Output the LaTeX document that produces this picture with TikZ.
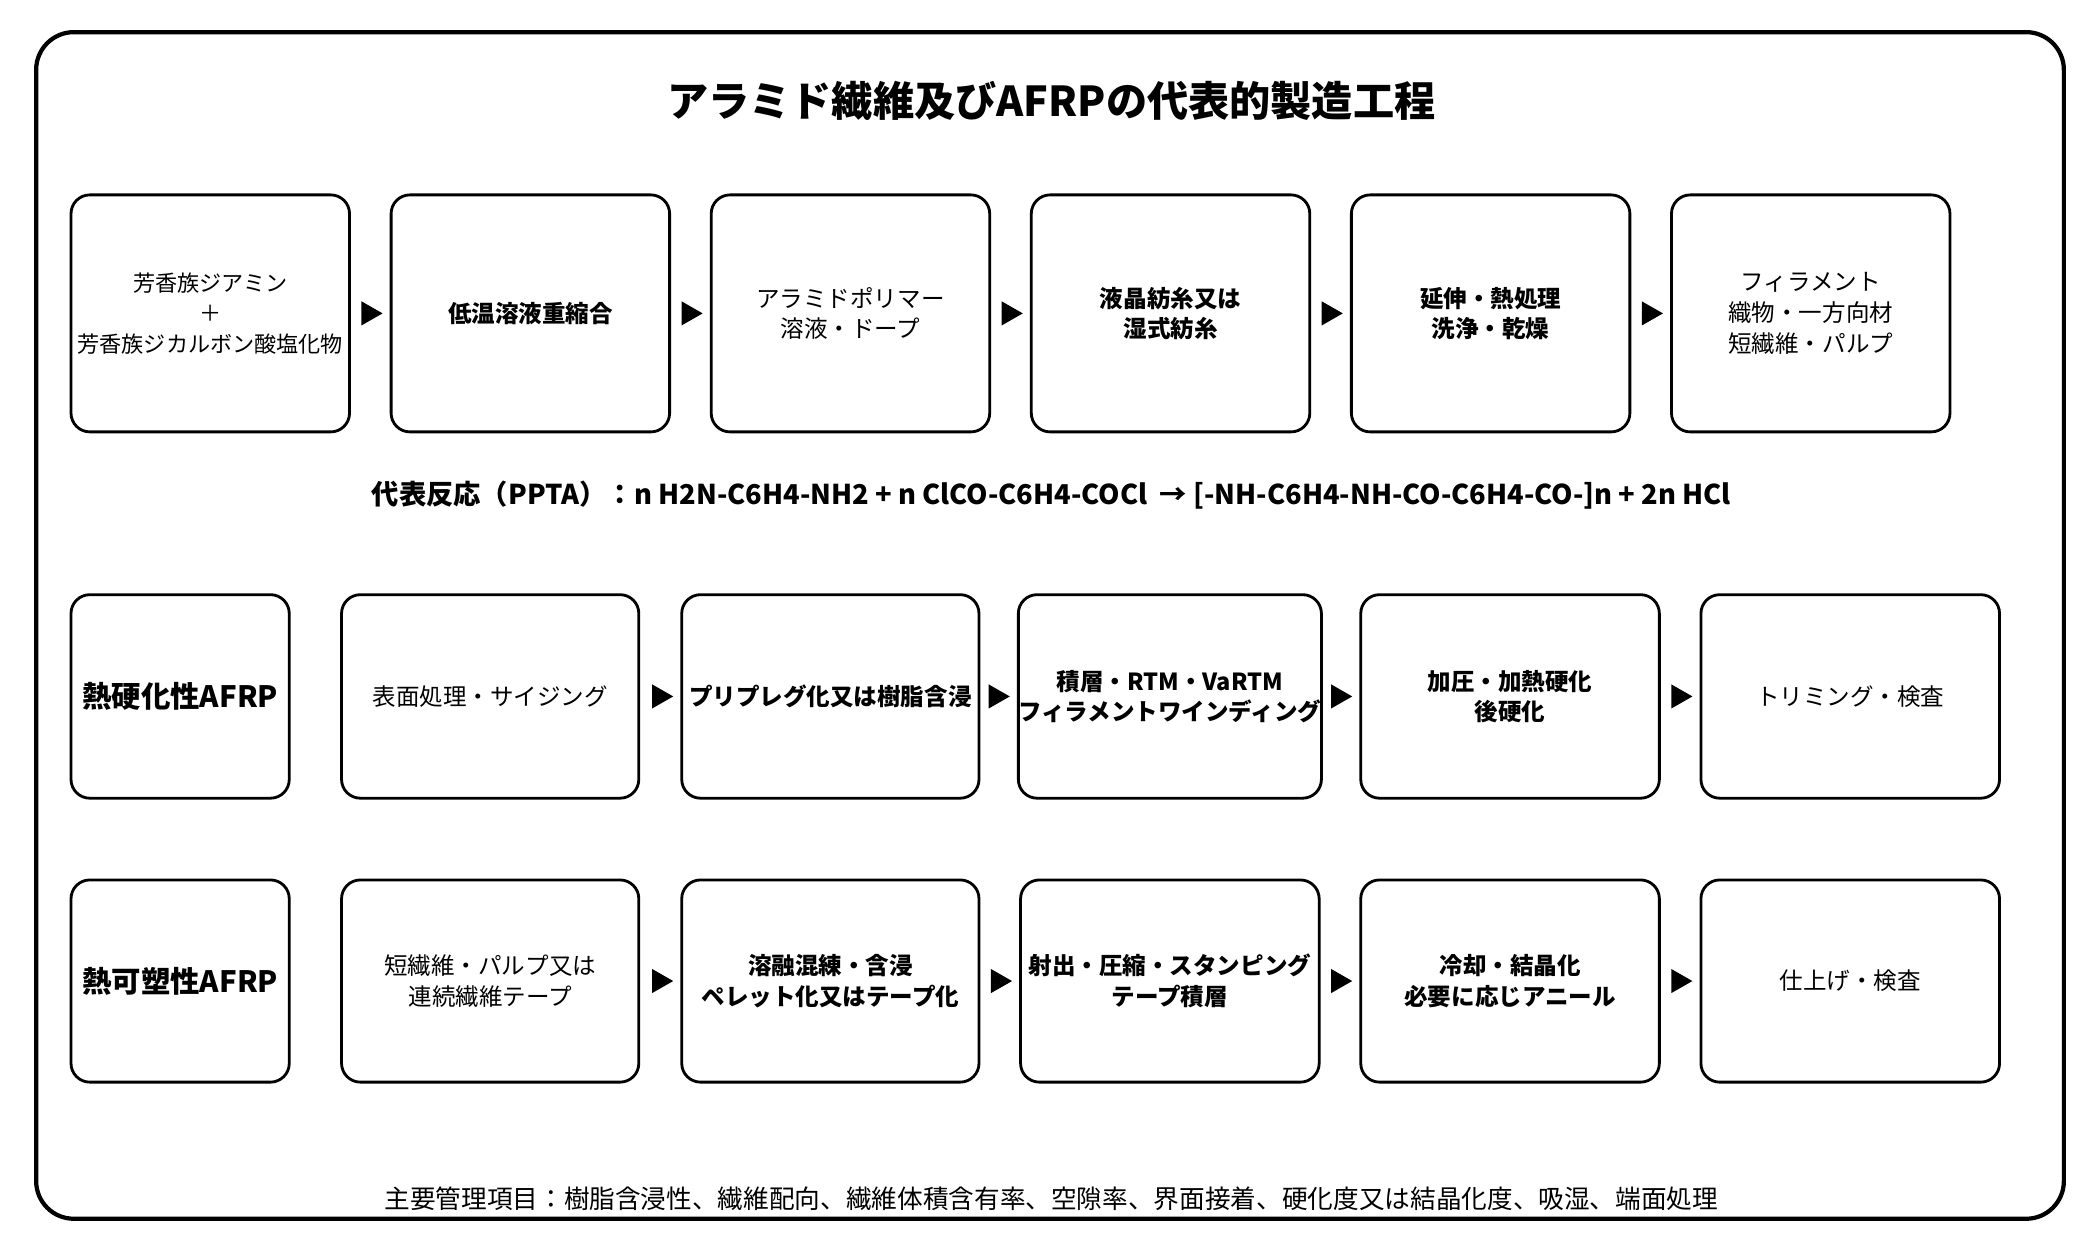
\documentclass[tikz,border=0pt]{standalone}
\usepackage{fontspec}
\setmainfont{Noto Sans CJK JP}
\usetikzlibrary{arrows.meta}

\tikzset{
  step/.style={draw, line width=1.2pt, rounded corners=8pt, align=center,
    minimum width=#1, inner sep=0pt, font=\fontsize{10}{13}\selectfont},
  step/.default=4.16cm,
  hot/.style={font=\fontsize{10}{13}\selectfont\bfseries},
  flow/.style={-{Triangle[length=9pt,width=10pt]}, line width=1pt, shorten >=3pt, shorten <=9pt},
  tag/.style={font=\fontsize{12.5}{15}\selectfont\bfseries}
}

\begin{document}
\begin{tikzpicture}[x=0.02cm, y=-0.02cm]
  \useasboundingbox (0,0) rectangle (1568,933);
  \draw[line width=1.8pt, rounded corners=16pt] (27,24) rectangle (1541,910);

  \node[font=\fontsize{17.5}{20}\selectfont\bfseries] (title) at (785,75) {アラミド繊維及びAFRPの代表的製造工程};

  % fibre route
  \node[step, minimum height=3.54cm, font=\fontsize{9.4}{13}\selectfont] (f1) at (157,234) {芳香族ジアミン\\＋\\芳香族ジカルボン酸塩化物};
  \path (157,231) coordinate (f1c);
  \node[step, minimum height=3.54cm, hot] (f2) at (396,234) {低温溶液重縮合};
  \node[step, minimum height=3.54cm] (f3) at (635,234) {アラミドポリマー\\溶液・ドープ};
  \node[step, minimum height=3.54cm, hot] (f4) at (874,234) {液晶紡糸又は\\湿式紡糸};
  \node[step, minimum height=3.54cm, hot] (f5) at (1113,234) {延伸・熱処理\\洗浄・乾燥};
  \node[step, minimum height=3.54cm] (f6) at (1352,234) {フィラメント\\織物・一方向材\\短繊維・パルプ};
  \foreach \a/\b in {f1/f2,f2/f3,f3/f4,f4/f5,f5/f6}
    \draw[flow] (\a.east) -- (\b.west);

  \node[font=\fontsize{11.6}{13}\selectfont\bfseries] (eq) at (785,370)
    {代表反応（PPTA）：n H2N-C6H4-NH2 + n ClCO-C6H4-COCl \ →\  [-NH-C6H4-NH-CO-C6H4-CO-]n + 2n HCl};

  % thermoset
  \node[step=3.26cm, minimum height=3.04cm, tag] (ts) at (134.5,520) {熱硬化性AFRP};
  \node[step=4.44cm, minimum height=3.04cm] (t1) at (366,520) {表面処理・サイジング};
  \node[step=4.44cm, minimum height=3.04cm, hot] (t2) at (620,520) {プリプレグ化又は樹脂含浸};
  \node[step=4.46cm, minimum height=3.04cm, hot] (t3) at (873.5,520) {積層・RTM・VaRTM\\フィラメントワインディング};
  \node[step=4.46cm, minimum height=3.04cm, hot] (t4) at (1127.5,520) {加圧・加熱硬化\\後硬化};
  \node[step=4.46cm, minimum height=3.04cm] (t5) at (1381.5,520) {トリミング・検査};
  \foreach \a/\b in {t1/t2,t2/t3,t3/t4,t4/t5}
    \draw[flow] (\a.east) -- (\b.west);

  % thermoplastic
  \node[step=3.26cm, minimum height=3.02cm, tag] (tp) at (134.5,732.5) {熱可塑性AFRP};
  \node[step=4.44cm, minimum height=3.02cm] (p1) at (366,732.5) {短繊維・パルプ又は\\連続繊維テープ};
  \node[step=4.44cm, minimum height=3.02cm, hot] (p2) at (620,732.5) {溶融混練・含浸\\ペレット化又はテープ化};
  \node[step=4.46cm, minimum height=3.02cm, hot] (p3) at (873.5,732.5) {射出・圧縮・スタンピング\\テープ積層};
  \node[step=4.46cm, minimum height=3.02cm, hot] (p4) at (1127.5,732.5) {冷却・結晶化\\必要に応じアニール};
  \node[step=4.46cm, minimum height=3.02cm] (p5) at (1381.5,732.5) {仕上げ・検査};
  \foreach \a/\b in {p1/p2,p2/p3,p3/p4,p4/p5}
    \draw[flow] (\a.east) -- (\b.west);

  \node[font=\fontsize{10.9}{13}\selectfont] (note) at (785,895)
    {主要管理項目：樹脂含浸性、繊維配向、繊維体積含有率、空隙率、界面接着、硬化度又は結晶化度、吸湿、端面処理};
\end{tikzpicture}
\end{document}
